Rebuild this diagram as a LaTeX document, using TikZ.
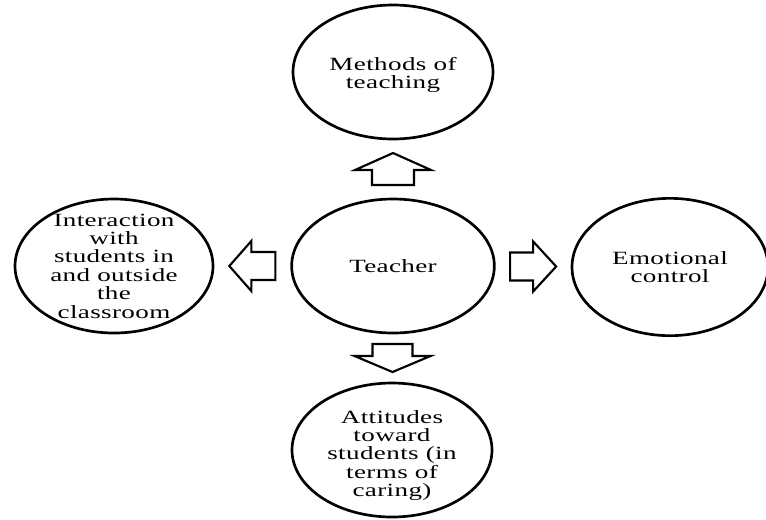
\documentclass[tikz,border=0pt]{standalone}
\usepackage{fontspec}
\setmainfont[FakeStretch=1.45,LetterSpace=2]{Liberation Serif}
\usetikzlibrary{calc,shapes.geometric}
\begin{document}
\begin{tikzpicture}[x=0.75pt,y=-0.75pt,
  bubble/.style={ellipse,draw=black,line width=2pt,minimum width=150pt,minimum height=100.5pt,inner sep=0pt},
  txt/.style={align=center,font=\fontsize{14pt}{13.8pt}\selectfont,inner sep=0pt},
  blockarrow/.style={draw=black,line width=1.6pt,fill=white,line join=miter}]
\useasboundingbox (0,0) rectangle (766,519);
\fill[white] (0,0) rectangle (766,519);

\node[bubble,label={[txt,yshift=-2pt]center:{Methods of\\teaching}}] (m) at (393,72) {};
\node[bubble,minimum width=152pt,label={[txt]center:{Teacher}}] (t) at (393,266) {};
\node[bubble,minimum width=148.5pt,label={[txt]center:{Interaction\\with\\students in\\and outside\\the\\classroom}}] (l) at (114,266) {};
\node[bubble,minimum width=147pt,minimum height=103pt,label={[txt]center:{Emotional\\control}}] (r) at (670,267) {};
\node[bubble,label={[txt,yshift=-4pt]center:{Attitudes\\toward\\students (in\\terms of\\caring)}}] (b) at (392,450) {};

\coordinate (au) at ($(m.south)!0.5!(t.north)$);
\coordinate (ad) at ($(t.south)!0.5!(b.north)$);
\coordinate (al) at ($(l.east)!0.5!(t.west)$);
\coordinate (ar) at ($(t.east)!0.5!(r.west)$);

\draw[blockarrow] (au) ++(-21,16) -- ++(0,-15) -- ++(-17,0) -- ++(38,-17) -- ++(38,17) -- ++(-17,0) -- ++(0,15) -- cycle;
\draw[blockarrow] (ad) ++(-20,-14) -- ++(40,0) -- ++(0,12) -- ++(18,0) -- ++(-38,16) -- ++(-38,-16) -- ++(18,0) -- cycle;
\draw[blockarrow] (al) ++(23,-14) -- ++(-24,0) -- ++(0,-11) -- ++(-22,25) -- ++(22,25) -- ++(0,-11) -- ++(24,0) -- cycle;
\draw[blockarrow] (ar) ++(-23,-14) -- ++(23,0) -- ++(0,-11) -- ++(23,25) -- ++(-23,25) -- ++(0,-11) -- ++(-23,0) -- cycle;
\end{tikzpicture}
\end{document}
